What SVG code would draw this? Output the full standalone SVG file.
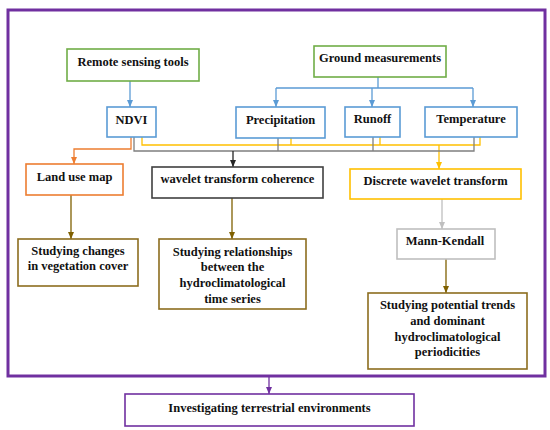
<svg xmlns="http://www.w3.org/2000/svg" width="550" height="430" viewBox="0 0 550 430">
<style>
text{font-family:"Liberation Serif","Times New Roman",serif;font-weight:bold;font-size:12.5px;fill:#111;text-anchor:middle}
.box{fill:#fff;stroke-width:1.6}
.green{stroke:#70AD47}
.blue{stroke:#5B9BD5}
.orange{stroke:#ED7D31}
.dark{stroke:#404040}
.yellow{stroke:#FFC000}
.lgray{stroke:#BFBFBF}
.brown{stroke:#8C6D1F}
.purple{stroke:#7030A0}
.ln{fill:none;stroke-width:1.3}
</style>
<defs>
<marker id="aBlue" markerUnits="userSpaceOnUse" markerWidth="8" markerHeight="8" refX="7" refY="4" orient="auto"><path d="M0,1 L7,4 L0,7 Z" fill="#5B9BD5"/></marker>
<marker id="aOrange" markerUnits="userSpaceOnUse" markerWidth="8" markerHeight="8" refX="7" refY="4" orient="auto"><path d="M0,1 L7,4 L0,7 Z" fill="#ED7D31"/></marker>
<marker id="aDark" markerUnits="userSpaceOnUse" markerWidth="8" markerHeight="8" refX="7" refY="4" orient="auto"><path d="M0,1 L7,4 L0,7 Z" fill="#262626"/></marker>
<marker id="aYellow" markerUnits="userSpaceOnUse" markerWidth="8" markerHeight="8" refX="7" refY="4" orient="auto"><path d="M0,1 L7,4 L0,7 Z" fill="#FFC000"/></marker>
<marker id="aLgray" markerUnits="userSpaceOnUse" markerWidth="8" markerHeight="8" refX="7" refY="4" orient="auto"><path d="M0,1 L7,4 L0,7 Z" fill="#BFBFBF"/></marker>
<marker id="aBrown" markerUnits="userSpaceOnUse" markerWidth="8" markerHeight="8" refX="7" refY="4" orient="auto"><path d="M0,1 L7,4 L0,7 Z" fill="#7F6000"/></marker>
<marker id="aPurple" markerUnits="userSpaceOnUse" markerWidth="8" markerHeight="8" refX="7" refY="4" orient="auto"><path d="M0,1 L7,4 L0,7 Z" fill="#7030A0"/></marker>
</defs>
<rect x="0" y="0" width="550" height="430" fill="#fff"/>
<g id="frame"><rect x="8" y="10" width="537" height="366" fill="none" stroke="#7030A0" stroke-width="3"/></g>

<g id="connectors">
<path class="ln" stroke="#5B9BD5" d="M130,81 V107" marker-end="url(#aBlue)"/>
<path class="ln" stroke="#5B9BD5" d="M378,77 V88 M276,88 H473"/>
<path class="ln" stroke="#5B9BD5" d="M276,88 V107" marker-end="url(#aBlue)"/>
<path class="ln" stroke="#5B9BD5" d="M372,88 V107" marker-end="url(#aBlue)"/>
<path class="ln" stroke="#5B9BD5" d="M473,88 V107" marker-end="url(#aBlue)"/>
<path class="ln" stroke="#FFC000" d="M142,137 V145 H480 V137 M291,138 V145 M380,137 V145"/>
<path class="ln" stroke="#FFC000" d="M439,145 V169" marker-end="url(#aYellow)"/>
<path class="ln" stroke="#ED7D31" d="M131,137 V149 H74 V164" marker-end="url(#aOrange)"/>
<path class="ln" stroke="#7F7F7F" d="M134,137 V151 H474 V137 M278,138 V151 M373,137 V151"/>
<path class="ln" stroke="#262626" d="M233,151 V167" marker-end="url(#aDark)"/>
<path class="ln" stroke="#7F6000" d="M71,195 V239" marker-end="url(#aBrown)"/>
<path class="ln" stroke="#7F6000" d="M232,198 V239" marker-end="url(#aBrown)"/>
<path class="ln" stroke="#BFBFBF" d="M442,199 V229" marker-end="url(#aLgray)"/>
<path class="ln" stroke="#7F6000" d="M446,259 V293" marker-end="url(#aBrown)"/>
<path class="ln" stroke="#7030A0" stroke-width="2" d="M269,377 V394" marker-end="url(#aPurple)"/>
</g>

<g id="remote"><rect class="box green" x="67" y="49" width="132" height="32"/><text x="133" y="66">Remote sensing tools</text></g>
<g id="ground"><rect class="box green" x="314" y="46" width="132" height="31"/><text x="380" y="62">Ground measurements</text></g>
<g id="ndvi"><rect class="box blue" x="107" y="107" width="49" height="30"/><text x="131.5" y="124">NDVI</text></g>
<g id="precip"><rect class="box blue" x="236" y="107" width="89" height="31"/><text x="280.5" y="124">Precipitation</text></g>
<g id="runoff"><rect class="box blue" x="345" y="107" width="55" height="30"/><text x="372.5" y="123">Runoff</text></g>
<g id="temp"><rect class="box blue" x="425" y="107" width="92" height="30"/><text x="471" y="123">Temperature</text></g>
<g id="landuse"><rect class="box orange" x="26" y="164" width="97" height="31"/><text x="74.5" y="181">Land use map</text></g>
<g id="wtc"><rect class="box dark" x="152" y="167" width="171" height="31"/><text x="237.5" y="183">wavelet transform coherence</text></g>
<g id="dwt"><rect class="box yellow" x="350" y="169" width="171" height="30"/><text x="435.5" y="185">Discrete wavelet transform</text></g>
<g id="mk"><rect class="box lgray" x="397" y="229" width="98" height="30"/><text x="445" y="245">Mann-Kendall</text></g>
<g id="veg"><rect class="box brown" x="18" y="239" width="120" height="47"/><text x="78" y="255">Studying changes</text><text x="78" y="270">in vegetation cover</text></g>
<g id="rel"><rect class="box brown" x="159" y="239" width="147" height="70"/><text x="232.5" y="256">Studying relationships</text><text x="232.5" y="271">between the</text><text x="232.5" y="287">hydroclimatological</text><text x="232.5" y="303">time series</text></g>
<g id="trend"><rect class="box brown" x="368" y="293" width="159" height="76"/><text x="447.5" y="309">Studying potential trends</text><text x="447.5" y="325">and dominant</text><text x="447.5" y="341">hydroclimatological</text><text x="447.5" y="356">periodicities</text></g>
<g id="invest"><rect class="box purple" x="125" y="394" width="289" height="32" stroke-width="2.5"/><text x="269.5" y="412">Investigating terrestrial environments</text></g>
</svg>
